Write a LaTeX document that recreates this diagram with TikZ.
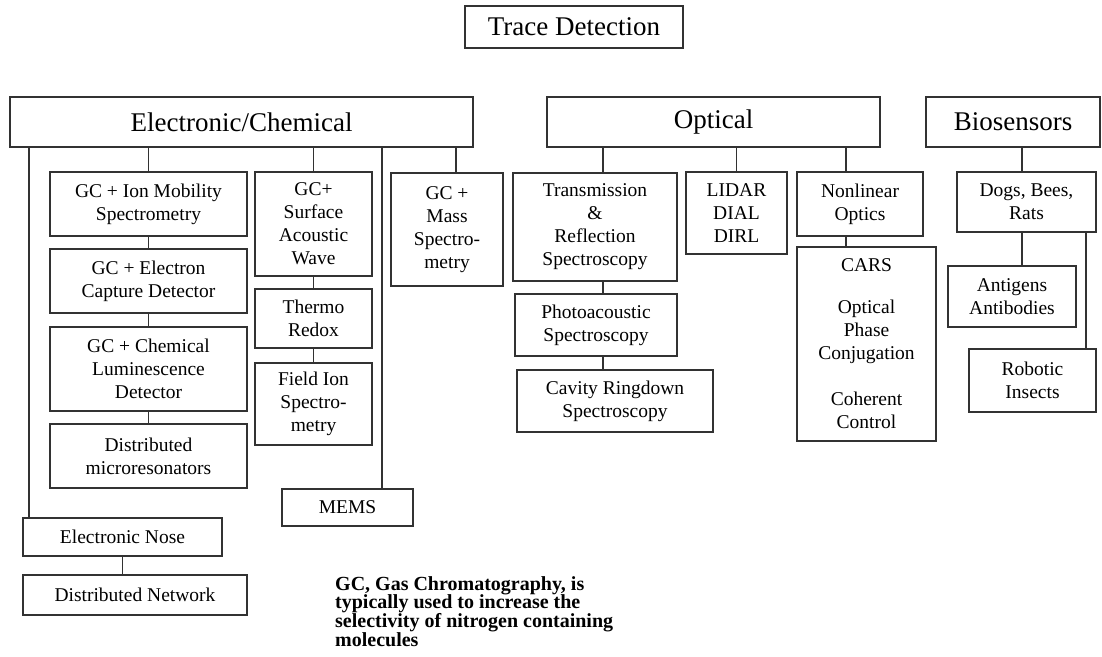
\documentclass[tikz,border=0pt]{standalone}
\usepackage{fontspec}
\setmainfont{Liberation Serif}
\usepackage{tikz}
\usetikzlibrary{positioning,calc}
\definecolor{linegray}{RGB}{50,50,50}
\tikzset{
  % plain box
  box/.style={
    draw=linegray,
    line width=1.5pt,
    align=center,
    inner sep=1pt,
    font=\fontsize{19.5}{23}\selectfont
  },
  % box size in px
  wh/.style 2 args={minimum width=#1pt, minimum height=#2pt},
  % heading box
  head/.style={box, font=\fontsize{27}{31}\selectfont},
  % connector
  link/.style={draw=linegray, line width=1.6pt},
  % footnote text
  note/.style={font=\fontsize{20}{18.3}\selectfont\bfseries, align=left, inner sep=0pt}
}
\begin{document}
\begin{tikzpicture}[x=1pt,y=-1pt]
  \useasboundingbox (0,0) rectangle (1102,656);

  % Title
  \node[head, wh={218}{42}] (trace) at (574,27) {Trace Detection};

  % Categories
  \node[head, wh={463}{50}] (elec) at (241.5,122) {Electronic/Chemical};
  \node[head, wh={333}{50}] (opt) at (713.5,122) {Optical};
  \node[head, wh={174}{50}] (bio) at (1013,122) {Biosensors};

  % Electronic/Chemical
  \node[box, wh={197}{64}] (ionm) at (148.5,204) {GC + Ion Mobility\\Spectrometry};
  \node[box, wh={197}{64}] (ecd) at (148.5,281) {GC + Electron\\Capture Detector};
  \node[box, wh={197}{84}] (chem) at (148.5,369) {GC + Chemical\\Luminescence\\Detector};
  \node[box, wh={197}{64}] (micro) at (148.5,456) {Distributed\\microresonators};
  \node[box, wh={117}{104}] (saw) at (313.5,224) {GC+\\Surface\\Acoustic\\Wave};
  \node[box, wh={117}{59}] (thermo) at (313.5,318.5) {Thermo\\Redox};
  \node[box, wh={117}{82}] (fis) at (313.5,404) {Field Ion\\Spectro-\\metry};
  \node[box, wh={112}{113}] (mass) at (447,229.5) {GC +\\Mass\\Spectro-\\metry};
  \node[box, wh={131}{37}] (mems) at (347.5,507.5) {MEMS};
  \node[box, wh={199}{38}] (enose) at (122.5,537) {Electronic Nose};
  \node[box, wh={224}{40}] (dnet) at (135,595) {Distributed Network};

  % Optical
  \node[box, wh={164}{108}] (trans) at (595,227) {Transmission\\\&\\Reflection\\Spectroscopy};
  \node[box, wh={162}{62}] (photo) at (596,325) {Photoacoustic\\Spectroscopy};
  \node[box, wh={196}{62}] (cavity) at (615,401) {Cavity Ringdown\\Spectroscopy};
  \node[box, wh={101}{82}] (lidar) at (736.5,213) {LIDAR\\DIAL\\DIRL};
  \node[box, wh={126}{64}] (nlo) at (860,204) {Nonlinear\\Optics};
  \node[box, wh={139}{194}] (cars) at (866.5,344)
    {CARS\\[19pt]Optical\\Phase\\Conjugation\\[23pt]Coherent\\Control};

  % Biosensors
  \node[box, wh={139}{60}] (dogs) at (1026.5,202) {Dogs, Bees,\\Rats};
  \node[box, wh={128}{61}] (anti) at (1012,296.5) {Antigens\\Antibodies};
  \node[box, wh={127}{63}] (robo) at (1032.5,380.5) {Robotic\\Insects};

  % Footnote
  \node[note, anchor=north west] (gcnote) at (335,576)
    {GC, Gas Chromatography, is\\typically used to increase the\\selectivity of nitrogen containing\\molecules};

  % Connectors
  \coordinate (eleft) at (29,0);
  \coordinate (eright) at (382,0);
  \coordinate (emass) at (456,0);
  \coordinate (ocol) at (603,0);
  \coordinate (onlo) at (846,0);
  \coordinate (bcol) at (1022,0);
  \coordinate (brob) at (1086,0);

  \draw[link] (elec.south -| ionm.north) -- (ionm.north);
  \draw[link] (elec.south -| saw.north) -- (saw.north);
  \draw[link] (elec.south -| eleft) -- (enose.north -| eleft);
  \draw[link] (elec.south -| eright) -- (mems.north -| eright);
  \draw[link] (elec.south -| emass) -- (mass.north -| emass);
  \foreach \a/\b in {ionm/ecd, ecd/chem, chem/micro, saw/thermo, thermo/fis, enose/dnet}
    \draw[link] (\a.south) -- (\a.south |- \b.north);

  \draw[link] (opt.south -| ocol) -- (trans.north -| ocol);
  \draw[link] (trans.south -| ocol) -- (photo.north -| ocol);
  \draw[link] (photo.south -| ocol) -- (cavity.north -| ocol);
  \draw[link] (opt.south -| lidar.north) -- (lidar.north);
  \draw[link] (opt.south -| onlo) -- (nlo.north -| onlo);
  \draw[link] (nlo.south -| onlo) -- (cars.north -| onlo);

  \draw[link] (bio.south -| bcol) -- (dogs.north -| bcol);
  \draw[link] (dogs.south -| bcol) -- (anti.north -| bcol);
  \draw[link] (dogs.south -| brob) -- (robo.north -| brob);
\end{tikzpicture}
\end{document}
